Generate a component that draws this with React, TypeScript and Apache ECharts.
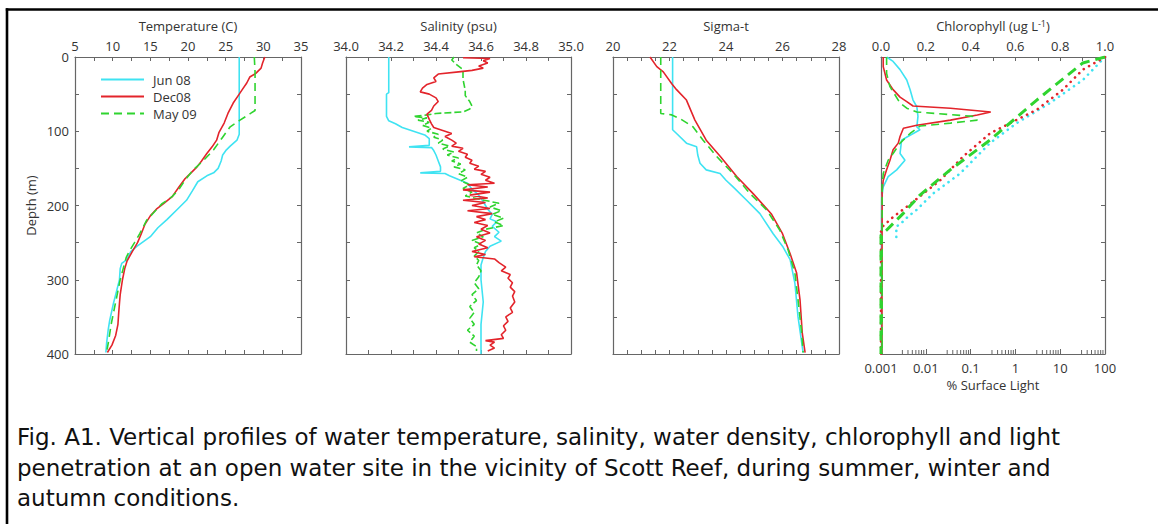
import React, { useEffect, useRef } from "react";
import * as echarts from "echarts";

// ---------- Data (value, depth in m) ----------
const seriesNames = ["Jun 08", "Dec08", "May 09"];

const tempJun = [[26.8,0],[26.8,104],[26.5,112],[25.6,120],[25.1,125],[24.6,132],[24.4,140],[24.0,150],[23.4,156],[22.5,160],[21.3,168],[20.6,180],[19.8,193],[18.6,205],[17.2,219],[16.0,230],[15.0,242],[13.2,255],[12.4,262],[11.9,273],[11.2,278],[11.0,285],[10.9,300],[10.4,320],[10.1,332],[9.6,355],[9.4,368],[9.2,385],[9.1,398]];
const tempDec = [[30.2,0],[29.9,8],[29.7,15],[29.0,22],[28.2,27],[27.8,35],[27.2,44],[26.8,50],[26.0,62],[25.3,76],[24.8,89],[24.1,102],[23.8,112],[23.2,121],[22.5,130],[21.8,140],[21.2,148],[20.3,157],[19.6,164],[18.8,175],[17.9,188],[16.8,197],[15.8,205],[15.0,214],[14.3,225],[13.8,238],[13.3,250],[12.6,262],[11.9,275],[11.6,285],[11.3,300],[11.0,320],[10.9,332],[10.8,345],[10.7,360],[10.4,375],[9.9,388],[9.3,398]];
const tempMay = [[28.8,0],[28.9,20],[28.9,72],[28.3,76],[26.9,85],[25.6,94],[24.6,108],[23.4,125],[22.0,140],[20.7,152],[19.6,166],[18.8,178],[17.9,188],[16.5,198],[15.4,210],[14.5,220],[13.6,238],[12.9,250],[12.3,260],[11.8,270],[11.4,285],[11.0,300],[10.6,320],[10.2,340],[9.8,360],[9.5,380],[9.2,398]];

const salJun = [[34.19,0],[34.19,48],[34.18,50],[34.18,80],[34.19,86],[34.22,90],[34.25,95],[34.30,100],[34.35,105],[34.37,110],[34.37,119],[34.28,121],[34.38,122],[34.39,126],[34.40,132],[34.41,140],[34.42,148],[34.42,154],[34.33,156],[34.44,157],[34.46,160],[34.50,165],[34.54,170],[34.56,178],[34.59,186],[34.61,195],[34.63,205],[34.65,212],[34.64,218],[34.67,222],[34.65,228],[34.68,236],[34.66,242],[34.69,248],[34.64,255],[34.62,262],[34.61,270],[34.60,280],[34.60,300],[34.61,330],[34.60,360],[34.60,400]];
const salDec = [[34.52,1],[34.64,2],[34.61,5],[34.63,8],[34.59,12],[34.61,15],[34.56,18],[34.50,20],[34.41,23],[34.39,28],[34.40,33],[34.36,37],[34.34,42],[34.33,47],[34.37,50],[34.40,55],[34.41,60],[34.39,66],[34.38,72],[34.36,77],[34.37,84],[34.38,90],[34.39,95],[34.43,99],[34.47,103],[34.44,107],[34.47,112],[34.49,116],[34.47,120],[34.52,123],[34.50,127],[34.54,131],[34.53,135],[34.56,139],[34.55,143],[34.59,147],[34.57,151],[34.62,154],[34.60,158],[34.64,162],[34.62,166],[34.66,170],[34.54,172],[34.63,175],[34.52,179],[34.64,182],[34.55,186],[34.63,190],[34.52,193],[34.62,196],[34.56,200],[34.64,204],[34.54,207],[34.65,211],[34.58,215],[34.62,219],[34.57,223],[34.63,227],[34.60,232],[34.64,237],[34.58,242],[34.62,247],[34.59,252],[34.63,257],[34.56,262],[34.62,266],[34.57,269],[34.66,272],[34.68,277],[34.71,283],[34.69,288],[34.73,293],[34.72,298],[34.74,304],[34.73,310],[34.75,316],[34.74,322],[34.75,330],[34.73,338],[34.74,344],[34.71,350],[34.72,356],[34.70,362],[34.71,368],[34.69,374],[34.70,379],[34.62,382],[34.66,384],[34.64,388],[34.66,392],[34.63,396]];
const salMay = [[34.48,0],[34.47,4],[34.49,10],[34.52,17],[34.52,30],[34.53,45],[34.53,52],[34.55,60],[34.56,66],[34.55,70],[34.52,74],[34.40,76],[34.36,78],[34.30,80],[34.36,82],[34.32,85],[34.37,88],[34.34,92],[34.38,96],[34.36,100],[34.41,104],[34.39,108],[34.43,112],[34.41,116],[34.46,120],[34.43,124],[34.48,128],[34.45,132],[34.50,136],[34.47,140],[34.51,144],[34.48,148],[34.53,152],[34.50,157],[34.54,162],[34.51,167],[34.55,172],[34.52,177],[34.56,182],[34.53,187],[34.60,192],[34.68,197],[34.64,202],[34.69,207],[34.65,212],[34.70,217],[34.66,222],[34.70,227],[34.62,232],[34.58,237],[34.61,242],[34.56,247],[34.60,252],[34.57,257],[34.59,262],[34.57,268],[34.59,274],[34.58,280],[34.60,288],[34.59,296],[34.57,304],[34.59,312],[34.56,320],[34.58,328],[34.55,336],[34.57,344],[34.55,352],[34.57,360],[34.54,368],[34.57,376],[34.55,384],[34.58,390],[34.58,396]];

const sigmaJun = [[22.11,0],[22.11,98],[22.25,103],[22.6,116],[22.96,121],[23.0,132],[23.08,143],[23.3,152],[23.79,157],[24.0,166],[24.25,175],[24.73,193],[25.2,211],[25.67,238],[26.02,256],[26.27,273],[26.44,305],[26.55,350],[26.73,398]];
const sigmaDec = [[21.31,0],[21.55,13],[21.78,20],[22.08,36],[22.25,44],[22.6,58],[22.9,85],[23.3,112],[23.8,134],[24.38,161],[24.96,184],[25.6,211],[26.0,238],[26.27,265],[26.5,291],[26.62,327],[26.7,372],[26.8,398]];
const sigmaMay = [[21.69,0],[21.69,76],[22.08,78],[22.37,83],[22.83,94],[23.19,112],[23.67,134],[24.25,157],[24.85,184],[25.44,206],[25.9,233],[26.2,260],[26.44,291],[26.55,327],[26.68,372],[26.73,398]];

const chlJun = [[0.025,0],[0.054,6],[0.085,17],[0.115,31],[0.13,44],[0.143,58],[0.16,67],[0.165,80],[0.16,94],[0.174,98],[0.12,107],[0.092,112],[0.085,130],[0.107,139],[0.07,152],[0.032,161],[0.01,175],[0.003,190],[0.002,250],[0.003,400]];
const chlDec = [[0.01,0],[0.01,13],[0.025,31],[0.054,44],[0.085,54],[0.115,60],[0.143,66],[0.31,69],[0.49,74],[0.43,78],[0.31,85],[0.16,92],[0.1,96],[0.085,107],[0.077,116],[0.054,125],[0.04,139],[0.025,152],[0.01,166],[0.005,180],[0.004,400]];
const chlMay = [[0.025,0],[0.025,22],[0.04,40],[0.085,62],[0.115,69],[0.16,74],[0.41,80],[0.43,85],[0.31,89],[0.174,93],[0.13,103],[0.085,116],[0.054,130],[0.032,139],[0.01,157],[0.005,175],[0.005,400]];

const lightJun = [[100,0],[32,31],[5.9,62],[1.07,89],[0.27,116],[0.058,157],[0.0145,184],[0.0062,206],[0.004,215],[0.0026,226],[0.0022,228],[0.0022,246]];
const lightDec = [[100,0],[32,17],[11.5,44],[3.0,71],[0.27,103],[0.068,134],[0.021,166],[0.0037,202],[0.0019,215],[0.0011,228],[0.001,235],[0.001,400]];
const lightMay = [[100,0],[32,8],[3.0,58],[0.27,112],[0.035,152],[0.0074,186],[0.0031,211],[0.00134,233],[0.001,240],[0.001,400]];

const logMinorTicks = [0.003,0.004,0.005,0.006,0.007,0.008,0.009,0.03,0.04,0.05,0.06,0.07,0.08,0.09,0.3,0.4,0.5,0.6,0.7,0.8,0.9,3,4,5,6,7,8,9,30,40,50,60,70,80,90];

const captionLines = [
  "Fig. A1. Vertical profiles of water temperature, salinity, water density, chlorophyll and light",
  "penetration at an open water site in the vicinity of Scott Reef, during summer, winter and",
  "autumn conditions.",
];

// ---------- Styles ----------
const CYAN = "#3fe3f2";
const RED = "#e3242b";
const GREEN = "#2fd42f";
const AX = "#666";
const TXT = "#333";
const FONT = "Open Sans";

export default function App() {
  const ref = useRef<HTMLDivElement>(null);

  useEffect(() => {
    document.body.style.margin = "0";
    if (!ref.current) return;
    const chart = echarts.init(ref.current, undefined, { renderer: "svg" });

    const grids = [
      { left: 75, top: 57, width: 226, height: 297 },
      { left: 346, top: 57, width: 225, height: 297 },
      { left: 613, top: 57, width: 226, height: 297 },
      { left: 881, top: 57, width: 224, height: 297 },
    ];

    const lineAx = { show: true, onZero: false, lineStyle: { color: AX, width: 1.2 } };
    const tick = { show: true, inside: true, length: 4, lineStyle: { color: AX, width: 1 } };
    const minor = (n: number) => ({ show: true, splitNumber: n, length: 4, lineStyle: { color: AX, width: 1 } });
    const lbl = { color: TXT, fontSize: 13, fontFamily: FONT };

    const topAxis = (gi: number, name: string, min: number, max: number, interval: number, split: number, fmt: (v: number) => string, rich?: any) => ({
      type: "value", gridIndex: gi, position: "top", min, max, interval,
      name, nameLocation: "middle", nameGap: 25,
      nameTextStyle: { color: TXT, fontSize: 13, fontFamily: FONT, rich },
      axisLine: lineAx, axisTick: tick, minorTick: minor(split),
      axisLabel: { ...lbl, margin: 5, formatter: fmt },
      splitLine: { show: false },
    });
    const bottomAxis = (gi: number, min: number, max: number, interval: number, split: number) => ({
      type: "value", gridIndex: gi, position: "bottom", min, max, interval,
      axisLine: lineAx, axisTick: tick, minorTick: minor(split),
      axisLabel: { show: false }, splitLine: { show: false },
    });

    const xAxis: any[] = [
      topAxis(0, "Temperature (C)", 5, 35, 5, 2, (v) => String(v)),
      bottomAxis(0, 5, 35, 5, 2),
      topAxis(1, "Salinity (psu)", 34, 35, 0.2, 2, (v) => v.toFixed(1)),
      bottomAxis(1, 34, 35, 0.2, 2),
      topAxis(2, "Sigma-t", 20, 28, 2, 4, (v) => String(v)),
      bottomAxis(2, 20, 28, 2, 4),
      topAxis(3, "Chlorophyll (ug L{sup|-1})", 0, 1, 0.2, 2, (v) => v.toFixed(1), {
        sup: { fontSize: 9, fontFamily: FONT, color: TXT, verticalAlign: "top", lineHeight: 10 },
      }),
      {
        type: "log", gridIndex: 3, position: "bottom", min: 0.001, max: 100, logBase: 10, splitNumber: 5,
        name: "% Surface Light", nameLocation: "middle", nameGap: 22,
        nameTextStyle: { color: TXT, fontSize: 13, fontFamily: FONT },
        axisLine: lineAx, axisTick: { ...tick, length: 5 },
        axisLabel: { ...lbl, margin: 7, formatter: (v: number) => String(+Number(v).toPrecision(3)) },
        splitLine: { show: false }, minorTick: { show: false },
      },
    ];

    const yAxis: any[] = [];
    grids.forEach((_, gi) => {
      yAxis.push({
        type: "value", gridIndex: gi, position: "left", inverse: true, min: 0, max: 400, interval: 100,
        name: gi === 0 ? "Depth (m)" : "", nameLocation: "middle", nameGap: 38, nameRotate: 90,
        nameTextStyle: { color: TXT, fontSize: 13, fontFamily: FONT },
        axisLine: lineAx, axisTick: tick, minorTick: minor(2),
        axisLabel: gi === 0 ? { ...lbl, margin: 6 } : { show: false },
        splitLine: { show: false },
      });
      yAxis.push({
        type: "value", gridIndex: gi, position: "right", inverse: true, min: 0, max: 400, interval: 100,
        axisLine: lineAx, axisTick: tick, minorTick: minor(2),
        axisLabel: { show: false }, splitLine: { show: false },
      });
    });

    const prof = (name: string, data: number[][], xi: number, yi: number, color: string, dash: number[] | null, z = 2) => ({
      type: "line", name, data, xAxisIndex: xi, yAxisIndex: yi, symbol: "none", z,
      lineStyle: { color, width: 1.6, type: dash ? dash : "solid" },
      itemStyle: { color },
      emphasis: { disabled: true }, silent: true,
    });
    const light = (name: string, data: number[][], color: string, kind: "dot" | "dash") => ({
      type: "line", name, data, xAxisIndex: 7, yAxisIndex: 6, symbol: "none",
      lineStyle: kind === "dot"
        ? { color, width: 2.6, type: [0.1, 6], cap: "round" }
        : { color, width: 3, type: [10, 6] },
      itemStyle: { color },
      emphasis: { disabled: true }, silent: true,
    });

    const DASH = [8, 5];
    const series: any[] = [
      prof(seriesNames[0], tempJun, 0, 0, CYAN, null),
      prof(seriesNames[1], tempDec, 0, 0, RED, null, 3),
      prof(seriesNames[2], tempMay, 0, 0, GREEN, DASH, 4),
      prof(seriesNames[0], salJun, 2, 2, CYAN, null),
      prof(seriesNames[2], salMay, 2, 2, GREEN, [7, 3], 3),
      prof(seriesNames[1], salDec, 2, 2, RED, null, 4),
      prof(seriesNames[0], sigmaJun, 4, 4, CYAN, null),
      prof(seriesNames[1], sigmaDec, 4, 4, RED, null, 3),
      prof(seriesNames[2], sigmaMay, 4, 4, GREEN, DASH, 4),
      prof(seriesNames[0], chlJun, 6, 6, CYAN, null),
      prof(seriesNames[1], chlDec, 6, 6, RED, null, 3),
      prof(seriesNames[2], chlMay, 6, 6, GREEN, DASH, 4),
      light("Jun 08 light", lightJun, CYAN, "dot"),
      light("Dec08 light", lightDec, RED, "dot"),
      light("May 09 light", lightMay, GREEN, "dash"),
      {
        type: "custom", name: "logMinor", xAxisIndex: 7, yAxisIndex: 6, silent: true, clip: false,
        data: logMinorTicks.map((v) => [v, 400]),
        renderItem: (_p: any, api: any) => {
          const p = api.coord([api.value(0), api.value(1)]);
          return { type: "line", shape: { x1: p[0], y1: p[1], x2: p[0], y2: p[1] - 4 }, style: { stroke: AX, lineWidth: 1 } };
        },
      },
    ];

    const graphic: any[] = [
      { type: "line", shape: { x1: 5.8, y1: 9.5, x2: 1158, y2: 9.5 }, style: { stroke: "#000", lineWidth: 2.6 }, silent: true },
      { type: "line", shape: { x1: 7, y1: 8.2, x2: 7, y2: 524 }, style: { stroke: "#000", lineWidth: 2.6 }, silent: true },
      ...captionLines.map((t, i) => ({
        type: "text", x: 17, y: 437 + i * 30.5, silent: true,
        style: { text: t, fontSize: 23, lineHeight: 27, fontFamily: "DejaVu Sans", fill: "#111", verticalAlign: "middle", align: "left" },
      })),
    ];

    chart.setOption({
      animation: false,
      backgroundColor: "#fff",
      grid: grids,
      xAxis, yAxis, series, graphic,
      legend: {
        data: seriesNames, orient: "vertical", left: 100, top: 73, padding: 0,
        itemWidth: 43, itemHeight: 14, itemGap: 4, selectedMode: false,
        itemStyle: { opacity: 0 },
        textStyle: { color: TXT, fontSize: 13, fontFamily: FONT, padding: [0, 0, 0, 4] },
      },
    });

    return () => chart.dispose();
  }, []);

  return <div ref={ref} style={{ width: 1158, height: 524 }} />;
}
